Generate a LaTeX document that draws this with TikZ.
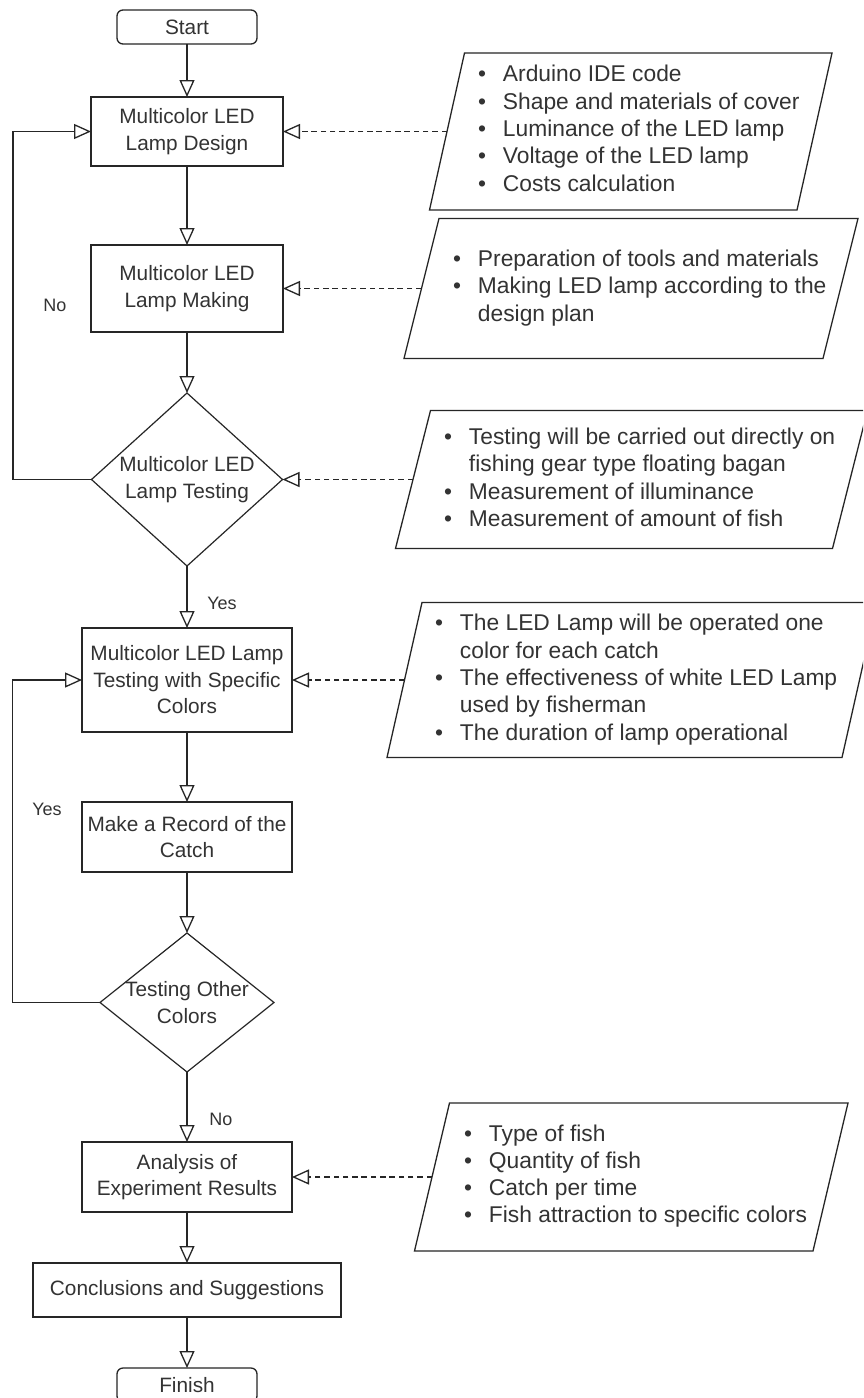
\documentclass[tikz,border=0pt]{standalone}
\usepackage{fontspec}
\setmainfont{Liberation Sans}
\usetikzlibrary{arrows.meta,shapes.geometric,calc}
\begin{document}
\begin{tikzpicture}[x=1pt,y=-1pt,
  every node/.style={inner sep=0pt, outer sep=0pt},
  box/.style={draw=black!85, line width=1.3pt, rectangle, align=center, text=black!80, font=\fontsize{20.8}{26.5}\selectfont},
  term/.style={box, rounded corners=6pt, minimum width=140pt, minimum height=34pt},
  dia/.style={draw=black!85, line width=1.2pt, diamond},
  dtext/.style={align=center, text=black!80, font=\fontsize{20.8}{26.5}\selectfont},
  ptext/.style={text=black!80, font=\fontsize{22.8}{27.3}\selectfont, anchor=west},
  pshape/.style={draw=none, rectangle},
  lbl/.style={text=black!80, font=\fontsize{18}{20}\selectfont},
  arr/.style={draw=black!85, line width=1.3pt, -{Triangle[length=17pt, width=15pt, fill=white]}},
  darr/.style={arr, dash pattern=on 5.5pt off 3.8pt},
  para/.style={draw=black!85, line width=1.3pt},
]
\useasboundingbox (0,0) rectangle (863,1398);
\begin{scope}
\clip (0,0) rectangle (863,1398);
\fill[white] (0,0) rectangle (863,1398);

% main flow
\node[term] (start) at (187,27) {Start};
\node[box, minimum width=192pt, minimum height=69pt] (design) at (187,131.5) {Multicolor LED\\Lamp Design};
\node[box, minimum width=192pt, minimum height=87pt] (making) at (187,288.5) {Multicolor LED\\Lamp Making};
\node[dia, minimum width=191pt, minimum height=173pt] (d1) at (187,479.5) {};
\node[dtext] (d1t) at (d1.center) {Multicolor LED\\Lamp Testing};
\node[box, minimum width=210pt, minimum height=104pt] (spec) at (187,680) {Multicolor LED Lamp\\Testing with Specific\\Colors};
\node[box, minimum width=210pt, minimum height=70pt] (rec) at (187,837) {Make a Record of the\\Catch};
\node[dia, minimum width=174pt, minimum height=139pt] (d2) at (187,1002.5) {};
\node[dtext] (d2t) at (d2.center) {Testing Other\\Colors};
\node[box, minimum width=210pt, minimum height=70pt] (ana) at (187,1177) {Analysis of\\Experiment Results};
\node[box, minimum width=308pt, minimum height=54pt] (conc) at (187,1290) {Conclusions and Suggestions};
\node[term] (fin) at (187,1385) {Finish};

% parallelograms
\node[pshape, minimum width=367.5pt, minimum height=157pt] (p1) at (630.75,131.5) {};
\node[pshape, minimum width=419pt, minimum height=140pt] (p2) at (631,288.5) {};
\node[pshape, minimum width=437pt, minimum height=138pt] (p3) at (631.5,479.5) {};
\node[pshape, minimum width=455pt, minimum height=155pt] (p4) at (632,680) {};
\node[pshape, minimum width=398.5pt, minimum height=148pt] (p5) at (631.25,1177) {};
\foreach \p in {p1,p2,p3,p4,p5}{
  \draw[para] ($(\p.north west)+(17.5,0)$) -- ($(\p.north east)+(17.5,0)$) -- ($(\p.south east)+(-17.5,0)$) -- ($(\p.south west)+(-17.5,0)$) -- cycle;
}

\node[ptext] (t1) at (478,131) {\begin{tabular}{@{}l@{\hspace{17pt}}l@{}}•&Arduino IDE code\\•&Shape and materials of cover\\•&Luminance of the LED lamp\\•&Voltage of the LED lamp\\•&Costs calculation\end{tabular}};
\node[ptext] (t2) at (453,288.5) {\begin{tabular}{@{}l@{\hspace{17pt}}l@{}}•&Preparation of tools and materials\\•&Making LED lamp according to the\\&design plan\end{tabular}};
\node[ptext] (t3) at (444,480) {\begin{tabular}{@{}l@{\hspace{17pt}}l@{}}•&Testing will be carried out directly on\\&fishing gear type floating bagan\\•&Measurement of illuminance\\•&Measurement of amount of fish\end{tabular}};
\node[ptext] (t4) at (435,680) {\begin{tabular}{@{}l@{\hspace{17pt}}l@{}}•&The LED Lamp will be operated one\\&color for each catch\\•&The effectiveness of white LED Lamp\\&used by fisherman\\•&The duration of lamp operational\end{tabular}};
\node[ptext] (t5) at (464,1176.5) {\begin{tabular}{@{}l@{\hspace{17pt}}l@{}}•&Type of fish\\•&Quantity of fish\\•&Catch per time\\•&Fish attraction to specific colors\end{tabular}};

% vertical connectors
\draw[arr] (start.south) -- (design.north);
\draw[arr] (design.south) -- (making.north);
\draw[arr] (making.south) -- (d1.north);
\draw[arr] (d1.south) -- (spec.north);
\draw[arr] (spec.south) -- (rec.north);
\draw[arr] (rec.south) -- (d2.north);
\draw[arr] (d2.south) -- (ana.north);
\draw[arr] (ana.south) -- (conc.north);
\draw[arr] (conc.south) -- (fin.north);

% loops
\coordinate (lx1) at (13,0);
\coordinate (lx2) at (12.5,0);
\draw[arr] (d1.west) -- (d1.west -| lx1) |- (design.west);
\draw[arr] (d2.west) -- (d2.west -| lx2) |- (spec.west);

% dashed inputs
\draw[darr] (p1.west) -- (design.east);
\draw[darr] (p2.west) -- (making.east);
\draw[darr] (p3.west) -- (d1.east);
\draw[darr] (p4.west) -- (spec.east);
\draw[darr] (p5.west) -- (ana.east);

% labels
\node[lbl] (no1) at (55,305) {No};
\node[lbl] (yes1) at (222,603) {Yes};
\node[lbl] (yes2) at (47,809) {Yes};
\node[lbl] (no2) at (221,1119) {No};
\end{scope}
\end{tikzpicture}
\end{document}
